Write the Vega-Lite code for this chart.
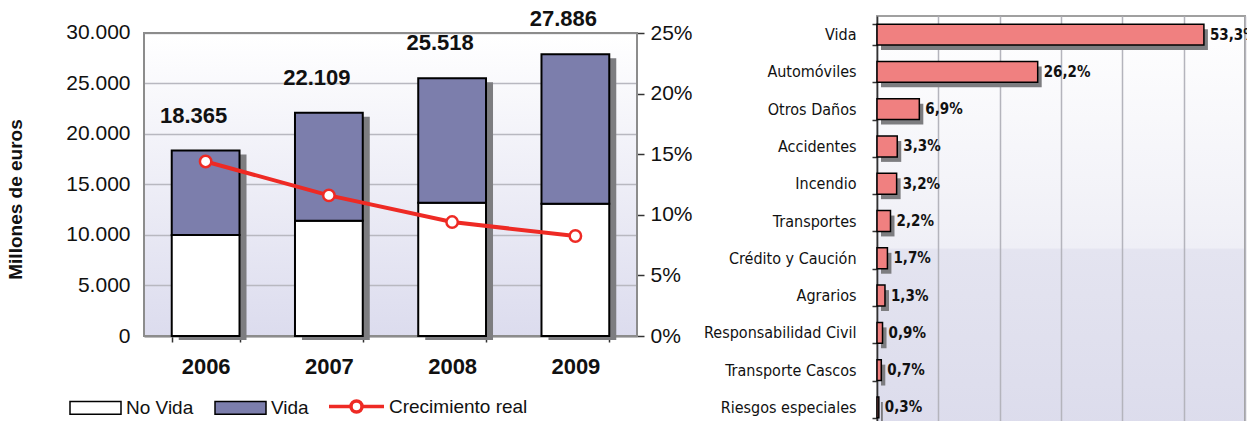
{
  "$schema": "https://vega.github.io/schema/vega-lite/v6.json",
  "padding": {"left": 6, "top": 7, "right": 0, "bottom": 0},
  "autosize": {"type": "pad"},
  "background": "white",
  "config": {
    "locale": {"number": {"decimal": ",", "thousands": ".", "grouping": [3], "currency": ["", " €"], "percent": "%"}},
    "font": "Liberation Sans",
    "axis": {"labelColor": "#111111", "titleColor": "#111111"}
  },
  "datasets": {
    "segmentos": [
      {"anio": "2006", "tipo": "No Vida", "primas": 10000},
      {"anio": "2006", "tipo": "Vida", "primas": 8365},
      {"anio": "2007", "tipo": "No Vida", "primas": 11400},
      {"anio": "2007", "tipo": "Vida", "primas": 10709},
      {"anio": "2008", "tipo": "No Vida", "primas": 13200},
      {"anio": "2008", "tipo": "Vida", "primas": 12318},
      {"anio": "2009", "tipo": "No Vida", "primas": 13100},
      {"anio": "2009", "tipo": "Vida", "primas": 14786}
    ],
    "totales": [
      {"anio": "2006", "total": 18365, "crecimiento": 0.144},
      {"anio": "2007", "total": 22109, "crecimiento": 0.116},
      {"anio": "2008", "total": 25518, "crecimiento": 0.094},
      {"anio": "2009", "total": 27886, "crecimiento": 0.0825}
    ],
    "marco": [{"desde": 0, "hasta": 30000}],
    "ramos": [
      {"ramo": "Vida", "cuota": 0.533},
      {"ramo": "Automóviles", "cuota": 0.262},
      {"ramo": "Otros Daños", "cuota": 0.069},
      {"ramo": "Accidentes", "cuota": 0.033},
      {"ramo": "Incendio", "cuota": 0.032},
      {"ramo": "Transportes", "cuota": 0.022},
      {"ramo": "Crédito y Caución", "cuota": 0.017},
      {"ramo": "Agrarios", "cuota": 0.013},
      {"ramo": "Responsabilidad Civil", "cuota": 0.009},
      {"ramo": "Transporte Cascos", "cuota": 0.007},
      {"ramo": "Riesgos especiales", "cuota": 0.003}
    ]
  },
  "spacing": 9,
  "resolve": {
    "scale": {"fill": "independent", "stroke": "independent"},
    "legend": {"fill": "independent", "stroke": "independent"}
  },
  "hconcat": [
    {
      "width": 493,
      "height": 320,
      "view": {
        "fill": {"gradient": "linear", "x1": 0, "y1": 0, "x2": 0, "y2": 1,
          "stops": [{"offset": 0, "color": "#ffffff"}, {"offset": 0.06, "color": "#ffffff"}, {"offset": 1, "color": "#dcdcee"}]},
        "stroke": null
      },
      "layer": [
        {
          "layer": [
            {
              "data": {"name": "marco"},
              "mark": {"type": "rect", "fill": null, "fillOpacity": 0, "stroke": "#8c8c8c", "strokeWidth": 2},
              "encoding": {
                "y": {"field": "desde", "type": "quantitative", "title": "Millones de euros",
                  "scale": {"domain": [0, 31683], "nice": false}},
                "y2": {"field": "hasta"}
              }
            },
            {
              "data": {"name": "totales"},
              "mark": {"type": "bar", "color": "#7d7d80", "xOffset": 7, "yOffset": 4},
              "encoding": {
                "x": {"field": "anio", "type": "nominal", "title": null,
                  "scale": {"paddingInner": 0.45, "paddingOuter": 0.225},
                  "axis": {"labelAngle": 0, "labelAlign": "center", "labelFontSize": 22, "labelFontWeight": "bold", "labelColor": "#111111",
                    "tickBand": "extent", "ticks": true, "tickSize": 6, "tickColor": "#333333", "tickWidth": 1.5,
                    "domainColor": "#8c8c8c", "domainWidth": 2, "labelPadding": 14, "grid": false}},
                "y": {"field": "total", "type": "quantitative", "title": "Millones de euros",
                  "scale": {"domain": [0, 31683], "nice": false}}
              }
            },
            {
              "data": {"name": "segmentos"},
              "mark": {"type": "bar", "stroke": "#000000", "strokeWidth": 2},
              "encoding": {
                "x": {"field": "anio", "type": "nominal", "title": null},
                "y": {"field": "primas", "type": "quantitative", "stack": "zero", "title": "Millones de euros",
                  "scale": {"domain": [0, 31683], "nice": false},
                  "axis": {"values": [0, 5000, 10000, 15000, 20000, 25000, 30000], "format": ",d",
                    "labelFontSize": 21, "labelPadding": 14, "ticks": false, "domain": false,
                    "grid": true, "gridColor": "#b8b8c0", "gridWidth": 1.5,
                    "titleFontSize": 19, "titleFontWeight": "bold", "titlePadding": 40, "titleY": 183}},
                "order": {"field": "tipo", "sort": "ascending"},
                "fill": {"field": "tipo", "type": "nominal",
                  "scale": {"domain": ["No Vida", "Vida"], "range": ["#ffffff", "#7c7eac"]},
                  "legend": {"title": null, "orient": "none", "legendX": -75, "legendY": 365, "direction": "horizontal",
                    "symbolType": "M-1,-0.25H1V0.25H-1Z", "symbolSize": 2601, "symbolStrokeColor": "#000000",
                    "symbolStrokeWidth": 1.5, "labelFontSize": 19, "labelColor": "#111111", "labelOffset": 4,
                    "columnPadding": 18, "symbolOpacity": 1}}
              }
            },
            {
              "data": {"name": "totales"},
              "mark": {"type": "text", "fontSize": 22, "fontWeight": "bold", "baseline": "bottom", "dy": -23, "dx": -12, "color": "#111111"},
              "encoding": {
                "x": {"field": "anio", "type": "nominal", "title": null},
                "y": {"field": "total", "type": "quantitative", "title": "Millones de euros",
                  "scale": {"domain": [0, 31683], "nice": false}},
                "text": {"field": "total", "type": "quantitative", "format": ",d"}
              }
            }
          ]
        },
        {
          "data": {"name": "totales"},
          "mark": {"type": "line", "strokeWidth": 4,
            "point": {"filled": true, "fill": "#ffffff", "stroke": "#ee2a24", "strokeWidth": 2.5, "size": 130}},
          "encoding": {
            "x": {"field": "anio", "type": "nominal", "title": null},
            "y": {"field": "crecimiento", "type": "quantitative", "title": null,
              "scale": {"domain": [0, 0.26403], "nice": false},
              "axis": {"orient": "right", "format": ".0%", "values": [0, 0.05, 0.1, 0.15, 0.2, 0.25],
                "labelFontSize": 21, "labelPadding": 6, "ticks": true, "tickSize": 7, "tickColor": "#333333",
                "tickWidth": 1.5, "domain": false, "grid": false}},
            "stroke": {"datum": "Crecimiento real", "type": "nominal",
              "scale": {"domain": ["Crecimiento real"], "range": ["#ee2a24"]},
              "legend": {"title": null, "orient": "none", "legendX": 183, "legendY": 361,
                "symbolType": "M-1,0H-0.2M0.2,0H1M-0.2,0A0.2,0.2 0 1,1 0.2,0A0.2,0.2 0 1,1 -0.2,0Z",
                "symbolSize": 3025, "symbolStrokeWidth": 3.5, "symbolFillColor": "#ffffff",
                "labelFontSize": 19, "labelColor": "#111111", "labelOffset": 3}}
          }
        }
      ],
      "resolve": {"scale": {"y": "independent"}}
    },
    {
      "width": 368,
      "height": 410,
      "view": {
        "fill": {"gradient": "linear", "x1": 0, "y1": 0, "x2": 0, "y2": 1,
          "stops": [{"offset": 0, "color": "#ffffff"}, {"offset": 0.565, "color": "#efeff6"},
            {"offset": 0.57, "color": "#e4e4f0"}, {"offset": 1, "color": "#dcdcec"}]},
        "stroke": "#a0a0a0",
        "strokeWidth": 2
      },
      "data": {"name": "ramos"},
      "encoding": {
        "y": {"field": "ramo", "type": "nominal", "sort": null, "title": null,
          "scale": {"paddingInner": 0.44, "paddingOuter": 0.22},
          "axis": {"labelFont": "DejaVu Sans Condensed, Liberation Sans", "labelFontSize": 16, "labelColor": "#111111",
            "labelPadding": 16, "tickBand": "extent", "ticks": true, "tickSize": 5, "tickColor": "#333333",
            "tickWidth": 1.5, "domainColor": "#333333", "domainWidth": 1.5, "grid": false}},
        "x": {"field": "cuota", "type": "quantitative", "title": null,
          "scale": {"domain": [0, 0.6], "nice": false},
          "axis": {"values": [0, 0.1, 0.2, 0.3, 0.4, 0.5, 0.6], "labels": false, "ticks": false, "domain": false,
            "grid": true, "gridColor": "#b4b4bc", "gridWidth": 1.5}}
      },
      "layer": [
        {"mark": {"type": "bar", "color": "#7d7d80", "xOffset": 4, "x2Offset": 4, "yOffset": 5}},
        {"mark": {"type": "bar", "color": "#f08080", "stroke": "#000000", "strokeWidth": 1.5}},
        {"mark": {"type": "text", "align": "left", "dx": 6, "font": "DejaVu Sans Condensed, Liberation Sans", "fontSize": 15,
            "fontWeight": "bold", "color": "#111111"},
          "encoding": {"text": {"field": "cuota", "type": "quantitative", "format": ".1%"}}}
      ]
    }
  ]
}
